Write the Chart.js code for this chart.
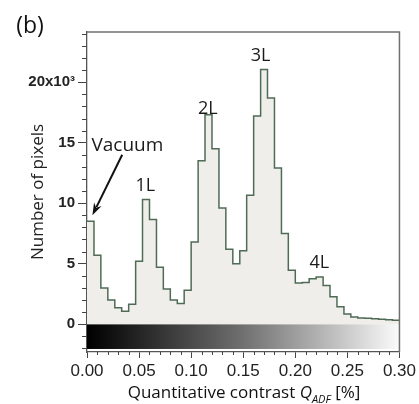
<!DOCTYPE html>
<html>
<head>
<meta charset="utf-8">
<script src="https://cdn.jsdelivr.net/npm/chart.js@4.4.1/dist/chart.umd.min.js"></script>
<style>
  html, body { margin: 0; padding: 0; background: #fff; }
  #wrap { width: 419px; height: 404px; position: relative; }
</style>
</head>
<body>
<div id="wrap"><canvas id="c" width="419" height="404"></canvas></div>
<script>
// bin edges of the histogram, Q_ADF in %
var binEdges = [0.0000, 0.0067, 0.0133, 0.0200, 0.0267, 0.0333, 0.0400, 0.0467, 0.0533, 0.0600,
                0.0667, 0.0733, 0.0800, 0.0867, 0.0933, 0.1000, 0.1067, 0.1133, 0.1200, 0.1267,
                0.1333, 0.1400, 0.1467, 0.1533, 0.1600, 0.1667, 0.1733, 0.1800, 0.1867, 0.1933,
                0.2000, 0.2067, 0.2133, 0.2200, 0.2267, 0.2333, 0.2400, 0.2467, 0.2533, 0.2600,
                0.2667, 0.2733, 0.2800, 0.2867, 0.2933, 0.3000];

// number of pixels per bin, x10^3
var pixelCounts = [8.5, 5.7, 3.0, 2.0, 1.35, 1.07, 1.65, 5.2, 10.3, 8.65,
                   4.7, 2.9, 2.0, 1.7, 2.8, 6.8, 13.5, 17.3, 14.5, 9.6,
                   6.2, 5.0, 6.06, 10.66, 17.2, 21.05, 18.7, 12.9, 7.5, 4.45,
                   3.4, 3.45, 3.75, 3.9, 3.2, 2.26, 1.43, 0.85, 0.6, 0.52,
                   0.48, 0.44, 0.4, 0.36, 0.33];

var yTicks = [0, 5, 10, 15, 20];
var xTicks = [0, 0.05, 0.10, 0.15, 0.20, 0.25, 0.30];

// peak labels [text, x, y]
var peakLabels = [
    ["Vacuum", 0.0388, 14.8],
    ["1L", 0.056, 11.4],
    ["2L", 0.116, 17.8],
    ["3L", 0.1667, 22.2],
    ["4L", 0.223, 5.1]
];
var arrowFrom = [0.0338, 14.0];
var arrowTo = [0.0052, 9.0];

var points = [];
binEdges.forEach(function(edge, i){
    var v = pixelCounts[Math.min(i, pixelCounts.length - 1)];
    points.push({x: edge, y: v});
});

var labelFont = '"Open Sans", "Noto Sans", sans-serif';
var tickFont = '"Liberation Sans Narrow", "Arial Narrow", "Liberation Sans", sans-serif';

var decor = {
    id: 'decor',
    beforeDatasetsDraw: function(chart){
        var ctx = chart.ctx, xs = chart.scales.x, ys = chart.scales.y;
        var x0 = xs.getPixelForValue(0), x1 = xs.getPixelForValue(0.30);
        var y0 = ys.getPixelForValue(0), y1 = ys.getPixelForValue(-2.05);
        var g = ctx.createLinearGradient(x0, 0, x1, 0);
        g.addColorStop(0, '#000');
        g.addColorStop(0.08, '#111');
        g.addColorStop(0.5, '#707070');
        g.addColorStop(0.8, '#c2c2c2');
        g.addColorStop(1, '#fbfbfb');
        ctx.save();
        ctx.fillStyle = g;
        ctx.fillRect(x0, y0, x1 - x0, y1 - y0);
        ctx.restore();
    },
    afterDraw: function(chart){
        var ctx = chart.ctx, xs = chart.scales.x, ys = chart.scales.y;
        var area = chart.chartArea;
        ctx.save();

        // frame top and right
        ctx.strokeStyle = '#707070';
        ctx.lineWidth = 1.5;
        ctx.beginPath();
        ctx.moveTo(area.left, area.top);
        ctx.lineTo(area.right, area.top);
        ctx.lineTo(area.right, area.bottom);
        ctx.stroke();

        // minor ticks
        ctx.strokeStyle = '#444';
        ctx.lineWidth = 1;
        ctx.beginPath();
        for (var v = -2; v <= 24; v++) {
            if (v % 5 === 0) continue;
            var py = Math.round(ys.getPixelForValue(v)) + 0.5;
            ctx.moveTo(area.left - 5, py);
            ctx.lineTo(area.left, py);
        }
        for (var k = 1; k < 30; k++) {
            if (k % 5 === 0) continue;
            var px = Math.round(xs.getPixelForValue(k / 100)) + 0.5;
            ctx.moveTo(px, area.bottom);
            ctx.lineTo(px, area.bottom + 3);
        }
        ctx.stroke();

        // peak labels
        ctx.fillStyle = '#1a1a1a';
        ctx.textAlign = 'center';
        ctx.textBaseline = 'middle';
        peakLabels.forEach(function(p){
            ctx.font = (p[0] === 'Vacuum' ? '19px ' : '18px ') + labelFont;
            ctx.fillText(p[0], xs.getPixelForValue(p[1]), ys.getPixelForValue(p[2]));
        });

        // arrow to vacuum bin
        var ax0 = xs.getPixelForValue(arrowFrom[0]), ay0 = ys.getPixelForValue(arrowFrom[1]);
        var ax1 = xs.getPixelForValue(arrowTo[0]), ay1 = ys.getPixelForValue(arrowTo[1]);
        var ang = Math.atan2(ay1 - ay0, ax1 - ax0);
        var head = 13;
        ctx.strokeStyle = '#111';
        ctx.lineWidth = 2;
        ctx.beginPath();
        ctx.moveTo(ax0, ay0);
        ctx.lineTo(ax1 - Math.cos(ang) * head * 0.7, ay1 - Math.sin(ang) * head * 0.7);
        ctx.stroke();
        ctx.fillStyle = '#111';
        ctx.beginPath();
        ctx.moveTo(ax1, ay1);
        ctx.lineTo(ax1 - Math.cos(ang - 0.33) * head, ay1 - Math.sin(ang - 0.33) * head);
        ctx.lineTo(ax1 - Math.cos(ang) * head * 0.65, ay1 - Math.sin(ang) * head * 0.65);
        ctx.lineTo(ax1 - Math.cos(ang + 0.33) * head, ay1 - Math.sin(ang + 0.33) * head);
        ctx.closePath();
        ctx.fill();

        // panel letter
        ctx.fillStyle = '#111';
        ctx.textAlign = 'center';
        ctx.font = '23px ' + labelFont;
        ctx.fillText('(b)', 30, 26);

        // x axis title with italic Q and subscript ADF
        var parts = [
            ['Quantitative contrast ', '17px ' + labelFont, 0],
            ['Q', 'italic 17px ' + labelFont, 0],
            ['ADF', 'italic 11px ' + labelFont, 5],
            [' [%]', '17px ' + labelFont, 0]
        ];
        var total = 0;
        parts.forEach(function(p){ ctx.font = p[1]; total += ctx.measureText(p[0]).width; });
        var cx = 244 - total / 2, base = 398;
        ctx.textAlign = 'left';
        ctx.textBaseline = 'alphabetic';
        parts.forEach(function(p){
            ctx.font = p[1];
            ctx.fillText(p[0], cx, base + p[2]);
            cx += ctx.measureText(p[0]).width;
        });
        ctx.restore();
    }
};

new Chart(document.getElementById('c'), {
    type: 'line',
    data: {
        datasets: [{
            data: points,
            stepped: true,
            fill: 'origin',
            backgroundColor: '#efeeeb',
            borderColor: '#4f6b55',
            borderWidth: 1.5,
            pointRadius: 0
        }]
    },
    options: {
        responsive: false,
        animation: false,
        devicePixelRatio: 1,
        layout: { padding: { top: 32, right: 17, left: 0, bottom: 0 } },
        plugins: { legend: { display: false }, tooltip: { enabled: false } },
        scales: {
            x: {
                type: 'linear',
                min: 0,
                max: 0.30,
                afterFit: function(s){ s.height = 52; },
                afterBuildTicks: function(s){ s.ticks = xTicks.map(function(v){ return {value: v}; }); },
                grid: { drawOnChartArea: false, tickLength: 6, tickColor: '#444', tickWidth: 1 },
                border: { display: true, color: '#555', width: 1.3 },
                ticks: {
                    color: '#222',
                    padding: 3,
                    maxRotation: 0,
                    font: { family: tickFont, size: 17 },
                    callback: function(v){ return Number(v).toFixed(2); }
                }
            },
            y: {
                min: -2.3,
                max: 24.15,
                afterFit: function(s){ s.width = 87; },
                afterBuildTicks: function(s){ s.ticks = yTicks.map(function(v){ return {value: v}; }); },
                grid: { drawOnChartArea: false, tickLength: 9, tickColor: '#444', tickWidth: 1 },
                border: { display: true, color: '#555', width: 1.3 },
                title: {
                    display: true,
                    text: 'Number of pixels',
                    color: '#222',
                    font: { family: labelFont, size: 17 },
                    padding: { top: 28, bottom: 0 }
                },
                ticks: {
                    color: '#222',
                    padding: 3,
                    font: { family: tickFont, size: 15, weight: 'bold' },
                    callback: function(v){ return v === 20 ? '20x10\u00b3' : String(v); }
                }
            }
        }
    },
    plugins: [decor]
});
</script>
</body>
</html>
